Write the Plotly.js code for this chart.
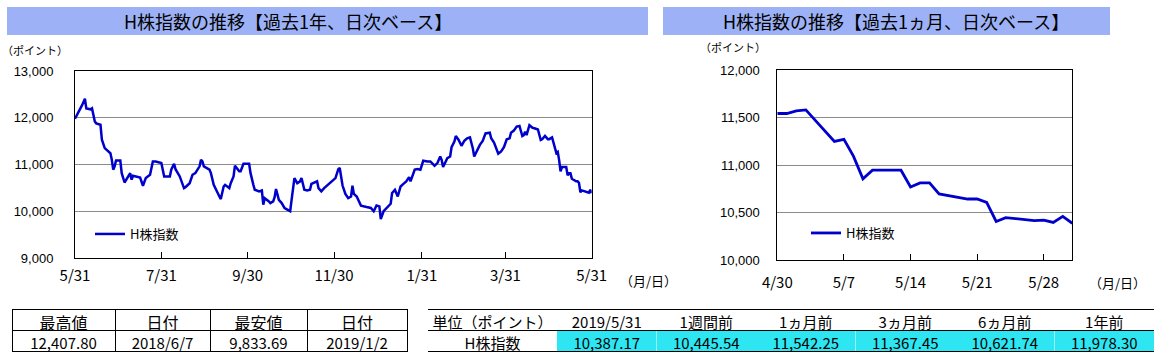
<!DOCTYPE html>
<html>
<head>
<meta charset="utf-8">
<script src="https://cdn.plot.ly/plotly-3.0.1.min.js"></script>
<style>
html,body{margin:0;padding:0;background:#fff;}
#chart{width:1163px;height:357px;}
</style>
</head>
<body>
<div id="chart"></div>
<script>
// ---- Data: 1-year daily series ----
const yearDates = ["2018-05-31","2018-06-04","2018-06-05","2018-06-07","2018-06-08","2018-06-11","2018-06-12","2018-06-14","2018-06-15","2018-06-18","2018-06-19","2018-06-21","2018-06-25","2018-06-26","2018-06-27","2018-06-28","2018-06-29","2018-07-02","2018-07-03","2018-07-05","2018-07-06","2018-07-09","2018-07-10","2018-07-11","2018-07-16","2018-07-18","2018-07-20","2018-07-23","2018-07-25","2018-07-27","2018-07-31","2018-08-02","2018-08-06","2018-08-07","2018-08-09","2018-08-10","2018-08-13","2018-08-16","2018-08-17","2018-08-20","2018-08-22","2018-08-24","2018-08-27","2018-08-28","2018-08-29","2018-08-30","2018-09-03","2018-09-04","2018-09-06","2018-09-07","2018-09-10","2018-09-11","2018-09-13","2018-09-14","2018-09-17","2018-09-18","2018-09-20","2018-09-21","2018-09-24","2018-09-25","2018-09-27","2018-10-01","2018-10-02","2018-10-04","2018-10-05","2018-10-08","2018-10-10","2018-10-11","2018-10-12","2018-10-15","2018-10-16","2018-10-18","2018-10-19","2018-10-20","2018-10-22","2018-10-24","2018-10-26","2018-10-28","2018-10-30","2018-10-31","2018-11-02","2018-11-04","2018-11-06","2018-11-07","2018-11-09","2018-11-11","2018-11-13","2018-11-14","2018-11-16","2018-11-18","2018-11-19","2018-11-21","2018-11-23","2018-11-25","2018-11-27","2018-11-29","2018-12-01","2018-12-03","2018-12-04","2018-12-06","2018-12-08","2018-12-10","2018-12-12","2018-12-13","2018-12-14","2018-12-16","2018-12-19","2018-12-23","2018-12-26","2018-12-28","2018-12-30","2019-01-01","2019-01-02","2019-01-04","2019-01-07","2019-01-09","2019-01-10","2019-01-12","2019-01-14","2019-01-16","2019-01-18","2019-01-20","2019-01-22","2019-01-23","2019-01-26","2019-01-28","2019-01-30","2019-02-01","2019-02-04","2019-02-06","2019-02-09","2019-02-11","2019-02-13","2019-02-14","2019-02-15","2019-02-18","2019-02-20","2019-02-21","2019-02-23","2019-02-24","2019-02-26","2019-02-28","2019-03-02","2019-03-04","2019-03-06","2019-03-08","2019-03-09","2019-03-11","2019-03-13","2019-03-15","2019-03-17","2019-03-20","2019-03-21","2019-03-23","2019-03-26","2019-03-28","2019-03-30","2019-04-01","2019-04-03","2019-04-04","2019-04-06","2019-04-08","2019-04-10","2019-04-12","2019-04-13","2019-04-14","2019-04-15","2019-04-17","2019-04-19","2019-04-21","2019-04-23","2019-04-25","2019-04-26","2019-04-28"];
const yearValues = [11978,12200,12270,12408,12200,12180,12200,11920,11880,11850,11530,11350,11240,11100,10890,10960,11085,11085,10815,10615,10660,10815,10675,10760,10720,10545,10710,10780,11065,11065,11030,10745,10745,10890,11015,10900,10745,10495,10515,10600,10780,10815,10960,11100,11065,10960,10890,10815,10565,10495,10315,10260,10530,10565,10495,10600,10745,10975,10855,10855,11015,11015,10815,10565,10460,10425,10445,10140,10280,10210,10175,10210,10300,10475,10245,10175,10070,10035,10000,10245,10710,10600,10640,10710,10460,10445,10460,10585,10615,10640,10495,10425,10495,10545,10590,10640,10710,10900,10925,10550,10370,10280,10315,10545,10370,10315,10120,10090,10070,10000,10125,10105,9834,10000,10105,10160,10390,10460,10315,10530,10585,10640,10730,10640,10890,10905,10890,11080,11065,11065,10975,11030,11170,11100,10945,11135,11170,11370,11490,11610,11525,11400,11505,11560,11580,11350,11170,11315,11420,11505,11665,11680,11560,11470,11230,11280,11370,11540,11560,11680,11725,11810,11825,11610,11630,11700,11630,11840,11790,11770,11750,11525,11540,11610];

// ---- Data: last month daily series ----
const monthDates = ["2019-04-30","2019-05-01","2019-05-02","2019-05-03","2019-05-06","2019-05-07","2019-05-08","2019-05-09","2019-05-10","2019-05-13","2019-05-14","2019-05-15","2019-05-16","2019-05-17","2019-05-20","2019-05-21","2019-05-22","2019-05-23","2019-05-24","2019-05-27","2019-05-28","2019-05-29","2019-05-30","2019-05-31"];
const monthValues = [11542,11542,11570,11580,11249,11270,11093,10854,10945,10945,10769,10811,10811,10695,10642,10642,10607,10406,10446,10415,10420,10395,10459,10387];

// ---- Tick labels ----
const yearTickDates = ["2018-05-31","2018-07-31","2018-09-30","2018-11-30","2019-01-31","2019-03-31","2019-05-31"];
const yearTickText = ["5/31","7/31","9/30","11/30","1/31","3/31","5/31"];
const monthTickDates = ["2019-04-30","2019-05-07","2019-05-14","2019-05-21","2019-05-28"];
const monthTickText = ["4/30","5/7","5/14","5/21","5/28"];

// ---- Text ----
const seriesName = "H株指数";
const titleYear = "H株指数の推移【過去1年、日次ベース】";
const titleMonth = "H株指数の推移【過去1ヵ月、日次ベース】";
const unitLabel = "（ポイント）";
const xUnitLabel = "（月/日）";

// ---- Tables ----
const statHeaders = ["最高値","日付","最安値","日付"];
const statValues = ["12,407.80","2018/6/7","9,833.69","2019/1/2"];
const cmpHeaders = ["単位（ポイント）","2019/5/31","1週間前","1ヵ月前","3ヵ月前","6ヵ月前","1年前"];
const cmpValues = ["H株指数","10,387.17","10,445.54","11,542.25","11,367.45","10,621.74","11,978.30"];

// ---- Layout helpers (pixel -> paper) ----
const W = 1163, H = 357;
const px = x => x / W;
const py = y => 1 - y / H;
const JP = "'Noto Sans CJK JP', 'Noto Sans', sans-serif";
const NUM = "'Liberation Sans', Arial, sans-serif";
const lineColor = "#0000CC";
const bandColor = "#9DB2F6";
const cyan = "#2DE6F2";

const traces = [
  {x: yearDates.concat(monthDates), y: yearValues.concat(monthValues), type: "scatter", mode: "lines",
   name: seriesName, line: {color: lineColor, width: 2.5}, xaxis: "x", yaxis: "y", legend: "legend", hoverinfo: "skip"},
  {x: monthDates, y: monthValues, type: "scatter", mode: "lines",
   name: seriesName, line: {color: lineColor, width: 2.8}, xaxis: "x2", yaxis: "y2", legend: "legend2", hoverinfo: "skip"},
  {type: "table", domain: {x: [px(12), px(407)], y: [py(352), py(309)]},
   columnwidth: [103, 95, 97, 100],
   header: {values: statHeaders, height: 21, align: "center", fill: {color: "#ffffff"},
            line: {color: "#000000", width: 1}, font: {family: JP, size: 16, color: "#000"}},
   cells: {values: statValues.map(v => [v]), height: 21, align: "center", fill: {color: "#ffffff"},
           line: {color: "#000000", width: 1}, font: {family: JP, size: 15, color: "#000"}}},
  {type: "table", domain: {x: [px(428), px(1154)], y: [py(352), py(309)]},
   columnwidth: [129, 99.5, 99.5, 99.5, 99.5, 99.5, 99.5],
   header: {values: cmpHeaders, height: 21, align: "center", fill: {color: "#ffffff"},
            line: {color: "rgba(0,0,0,0)", width: 0}, font: {family: JP, size: 15, color: "#000"}},
   cells: {values: cmpValues.map(v => [v]), height: 21, align: "center",
           fill: {color: cmpValues.map((v, i) => i === 0 ? "#ffffff" : cyan)},
           line: {color: "rgba(0,0,0,0)", width: 0}, font: {family: JP, size: 15, color: "#000"}}}
];

const axisCommon = {showline: true, mirror: true, linecolor: "#000", linewidth: 1, zeroline: false, fixedrange: true};

const layout = {
  width: W, height: H,
  margin: {l: 0, r: 0, t: 0, b: 0},
  paper_bgcolor: "#fff", plot_bgcolor: "#fff",
  showlegend: true,
  xaxis: Object.assign({}, axisCommon, {
    domain: [px(75), px(591.7)], anchor: "y", type: "date",
    range: ["2018-05-31", "2019-05-31"], tickmode: "array", tickvals: yearTickDates, ticktext: yearTickText,
    ticks: "inside", ticklen: 6, tickcolor: "#000", showgrid: false, ticklabelstandoff: 4,
    tickfont: {family: JP, size: 15, color: "#000"}}),
  yaxis: Object.assign({}, axisCommon, {
    domain: [py(258), py(71)], anchor: "x", range: [9000, 13000], dtick: 1000, tickformat: ",",
    showgrid: true, gridcolor: "#8c8c8c", gridwidth: 1, ticks: "", ticklabelstandoff: 18,
    tickfont: {family: NUM, size: 13, color: "#000"}}),
  xaxis2: Object.assign({}, axisCommon, {
    domain: [px(777.3), px(1072.3)], anchor: "y2", type: "date",
    range: ["2019-04-30", "2019-05-31"], tickmode: "array", tickvals: monthTickDates, ticktext: monthTickText,
    ticks: "inside", ticklen: 6, tickcolor: "#000", showgrid: false, ticklabelstandoff: 9,
    tickfont: {family: JP, size: 15, color: "#000"}}),
  yaxis2: Object.assign({}, axisCommon, {
    domain: [py(260), py(70)], anchor: "x2", range: [10000, 12000], dtick: 500, tickformat: ",",
    showgrid: true, gridcolor: "#8c8c8c", gridwidth: 1, ticks: "", ticklabelstandoff: 14,
    tickfont: {family: NUM, size: 13, color: "#000"}}),
  legend: {x: px(90), y: py(234), xanchor: "left", yanchor: "middle", bgcolor: "rgba(0,0,0,0)",
           font: {family: JP, size: 13, color: "#000"}, itemwidth: 30},
  legend2: {x: px(806), y: py(233), xanchor: "left", yanchor: "middle", bgcolor: "rgba(0,0,0,0)",
           font: {family: JP, size: 13, color: "#000"}, itemwidth: 30},
  shapes: [
    {type: "rect", xref: "paper", yref: "paper", x0: px(7), x1: px(648), y0: py(35), y1: py(7),
     fillcolor: bandColor, line: {width: 0}, layer: "below"},
    {type: "rect", xref: "paper", yref: "paper", x0: px(663), x1: px(1110), y0: py(35), y1: py(7),
     fillcolor: bandColor, line: {width: 0}, layer: "below"},
    {type: "line", xref: "paper", yref: "paper", x0: px(428), x1: px(1154), y0: py(309.5), y1: py(309.5), line: {color: "#000", width: 1}},
    {type: "line", xref: "paper", yref: "paper", x0: px(428), x1: px(1154), y0: py(330.5), y1: py(330.5), line: {color: "#000", width: 1}},
    {type: "line", xref: "paper", yref: "paper", x0: px(428), x1: px(1154), y0: py(351.5), y1: py(351.5), line: {color: "#000", width: 1}}
  ],
  annotations: [
    {text: titleYear, xref: "paper", yref: "paper", x: px(288), y: py(21), xanchor: "center", yanchor: "middle",
     showarrow: false, font: {family: JP, size: 18, color: "#000"}},
    {text: titleMonth, xref: "paper", yref: "paper", x: px(896), y: py(21), xanchor: "center", yanchor: "middle",
     showarrow: false, font: {family: JP, size: 18, color: "#000"}},
    {text: unitLabel, xref: "paper", yref: "paper", x: px(0), y: py(50), xanchor: "left", yanchor: "middle",
     showarrow: false, font: {family: JP, size: 11, color: "#000"}},
    {text: unitLabel, xref: "paper", yref: "paper", x: px(698), y: py(47), xanchor: "left", yanchor: "middle",
     showarrow: false, font: {family: JP, size: 11, color: "#000"}},
    {text: xUnitLabel, xref: "paper", yref: "paper", x: px(618), y: py(280), xanchor: "left", yanchor: "middle",
     showarrow: false, font: {family: JP, size: 13, color: "#000"}},
    {text: xUnitLabel, xref: "paper", yref: "paper", x: px(1087), y: py(282), xanchor: "left", yanchor: "middle",
     showarrow: false, font: {family: JP, size: 13, color: "#000"}}
  ]
};

Plotly.newPlot("chart", traces, layout, {staticPlot: true, displayModeBar: false});
</script>
</body>
</html>
